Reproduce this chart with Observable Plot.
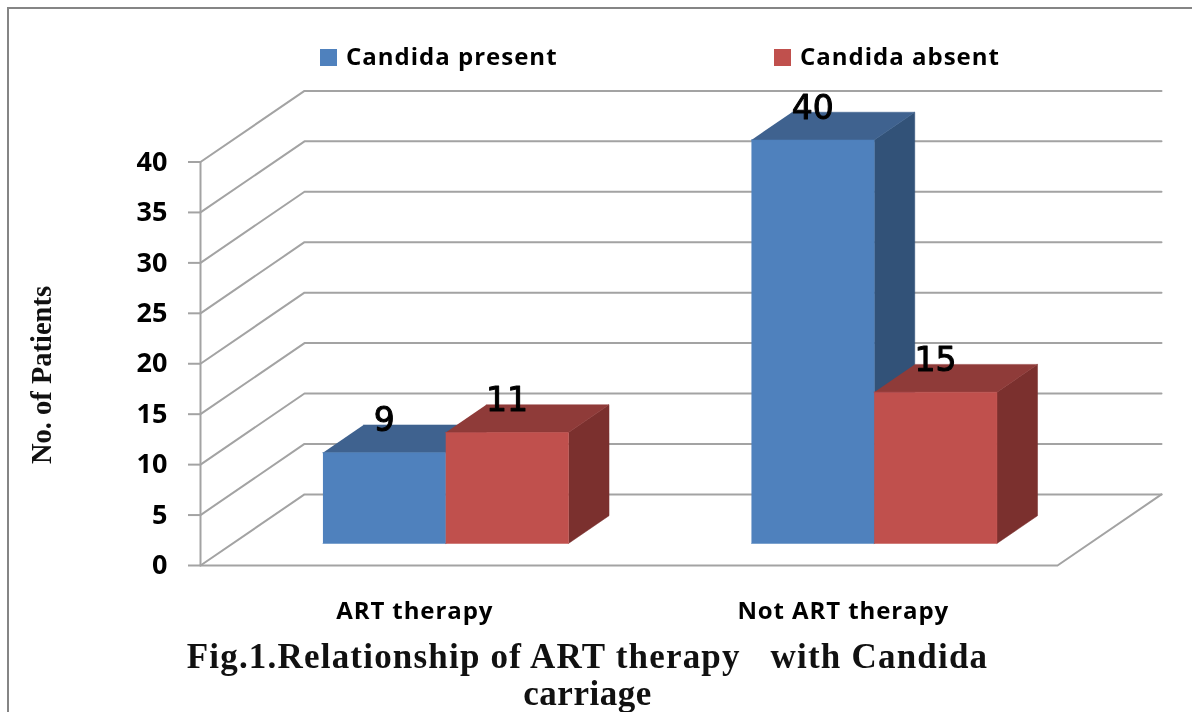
<!DOCTYPE html>
<html>
<head>
<meta charset="utf-8">
<script src="https://cdn.jsdelivr.net/npm/d3@7"></script>
<script src="https://cdn.jsdelivr.net/npm/@observablehq/plot@0.6"></script>
<style>
html,body{margin:0;padding:0;background:#fff;}
#page{position:relative;width:1192px;height:712px;overflow:hidden;background:#fff;filter:blur(.4px);}
#frame{position:absolute;left:7px;top:7px;right:-10px;bottom:-10px;border-left:2px solid #858585;border-top:2px solid #858585;}
#legend{position:relative;height:80px;}
.key{position:absolute;top:49px;width:17px;height:17px;}
.keytext{position:absolute;top:40px;font:700 24px/32px "Open Sans",sans-serif;color:#000;letter-spacing:1px;white-space:nowrap;}
#chart{position:relative;height:552px;}
#chart svg{display:block;overflow:visible;}
#chart g[aria-label="x-axis tick label"]{letter-spacing:.9px;}
#caption{position:absolute;left:0;top:638px;width:1175px;text-align:center;font:700 35px/38px "Liberation Serif",serif;color:#111;}
#caption div{white-space:pre;letter-spacing:1.2px;}
#caption div+div{letter-spacing:.5px;line-height:34px;margin-top:1px;}
#ylabel{position:absolute;left:42px;top:375px;transform:translate(-50%,-50%) rotate(-90deg);font:700 28.5px/30px "Liberation Serif",serif;color:#111;white-space:nowrap;}
</style>
</head>
<body>
<div id="page">
  <div id="frame"></div>
  <div id="legend"></div>
  <div id="chart"></div>
  <div id="ylabel"></div>
  <div id="caption"></div>
</div>
<script>
const categories = ["ART therapy", "Not ART therapy"];
const seriesNames = ["Candida present", "Candida absent"];
const candidaPresent = [9, 40];
const candidaAbsent = [11, 15];
const yTicks = [0, 5, 10, 15, 20, 25, 30, 35, 40];
const yTitle = "No. of Patients";
const captionLines = ["Fig.1.Relationship of ART therapy   with Candida", "carriage"];
const seriesColors = [
  {front: "#4f81bd", top: "#3f628f", side: "#325278"},
  {front: "#c0504d", top: "#8f3b39", side: "#7b302e"}
];

// Oblique projection: depth d (0 front, 1 back) shifts a point in data units.
const shiftX = 0.2427, shiftY = 7.05;
const barFront = 0.31, barBack = 0.70, barWidth = 0.2865, barCenter = 0.497;
const gridColor = "#a3a3a3";
const px = (x, d) => x + d * shiftX;
const py = (v, d) => v + d * shiftY;

const path = (id, pts) => pts.map(([x, v, d]) => ({id, x: px(x, d), y: py(v, d)}));

const gridLines = yTicks.flatMap(v => path("g" + v, [[0, v, 0], [0, v, 1], [2, v, 1]]));
const floorLine = path("floor", [[0, 0, 0], [2, 0, 0], [2, 0, 1]]);
const wallLine = path("wall", [[0, 0, 0], [0, 40, 0]]);

const faces = [];
const labels = [];
categories.forEach((_, c) => {
  [candidaPresent, candidaAbsent].forEach((vals, s) => {
    const v = vals[c];
    const x0 = c + barCenter + (s - 1) * barWidth, x1 = x0 + barWidth;
    const col = seriesColors[s], key = s + "-" + c;
    const add = (name, color, pts) => path(key + name, pts).forEach(p => faces.push({...p, color}));
    add("side", col.side, [[x1, 0, barFront], [x1, 0, barBack], [x1, v, barBack], [x1, v, barFront]]);
    add("top", col.top, [[x0, v, barFront], [x1, v, barFront], [x1, v, barBack], [x0, v, barBack]]);
    add("front", col.front, [[x0, 0, barFront], [x1, 0, barFront], [x1, v, barFront], [x0, v, barFront]]);
    labels.push({x: px((x0 + x1) / 2, barFront), y: py(v, barFront), text: String(v)});
  });
});

const chart = Plot.plot({
  width: 1192,
  height: 552,
  marginLeft: 200,
  marginRight: 135,
  marginTop: 81.5,
  marginBottom: 67,
  style: {background: "transparent", overflow: "visible"},
  x: {domain: [0, 2], axis: null},
  y: {domain: [0, 40], axis: null},
  color: {type: "identity"},
  marks: [
    Plot.line(gridLines, {x: "x", y: "y", z: "id", stroke: gridColor, strokeWidth: 2}),
    Plot.line(wallLine, {x: "x", y: "y", z: "id", stroke: gridColor, strokeWidth: 2}),
    Plot.line(floorLine, {x: "x", y: "y", z: "id", stroke: gridColor, strokeWidth: 2}),
    Plot.line(faces, {x: "x", y: "y", z: "id", fill: "color", stroke: "color", strokeWidth: 0.5}),
    Plot.axisY({
      ticks: yTicks, tickSize: 12, tickPadding: 21, stroke: gridColor, strokeWidth: 2,
      label: null, tickFormat: d => d,
      fontSize: 27, fontWeight: 700, fontFamily: "Open Sans", fill: "#000"
    }),
    Plot.axisX({
      ticks: [0.5, 1.5], tickSize: 0, tickPadding: 36, label: null,
      tickFormat: d => categories[Math.floor(d)],
      fontSize: 24, fontWeight: 700, fontFamily: "Open Sans", fill: "#000"
    }),
    Plot.text(labels, {
      x: "x", y: "y", text: "text", dy: -32, fill: "#000", stroke: "#000", strokeWidth: 1,
      fontSize: 33, fontFamily: "DejaVu Sans", textAnchor: "middle"
    })
  ]
});
document.getElementById("chart").appendChild(chart);

const legend = document.getElementById("legend");
const keyLeft = [320, 774], textLeft = [346, 800];
seriesNames.forEach((name, i) => {
  const k = document.createElement("div");
  k.className = "key";
  k.style.left = keyLeft[i] + "px";
  k.style.background = seriesColors[i].front;
  legend.appendChild(k);
  const t = document.createElement("div");
  t.className = "keytext";
  t.style.left = textLeft[i] + "px";
  t.textContent = name;
  legend.appendChild(t);
});
document.getElementById("ylabel").textContent = yTitle;
const cap = document.getElementById("caption");
captionLines.forEach(line => {
  const d = document.createElement("div");
  d.textContent = line;
  cap.appendChild(d);
});
</script>
</body>
</html>
